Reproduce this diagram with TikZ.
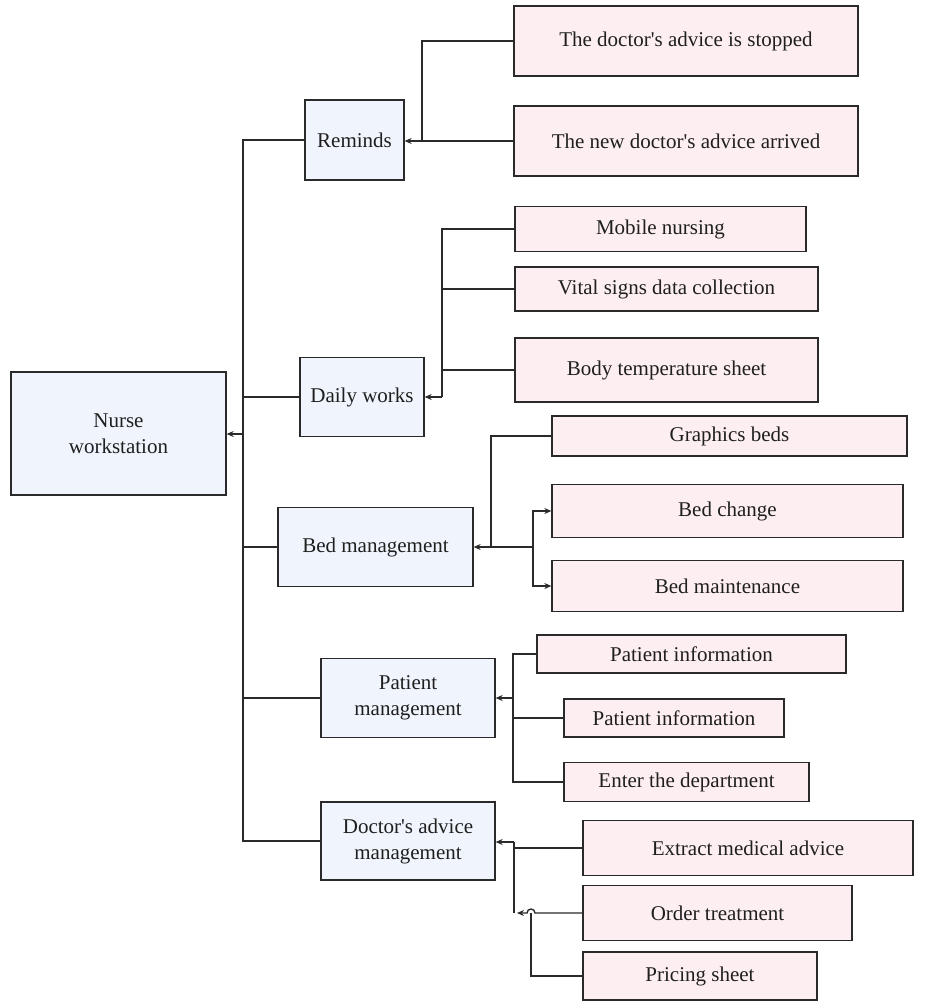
\documentclass[tikz,border=0pt]{standalone}
\usepackage{fontspec}
\setmainfont{Liberation Serif}[Ligatures=TeXOff]
\usetikzlibrary{arrows.meta}
\definecolor{bluefill}{HTML}{F0F5FD}
\definecolor{pinkfill}{HTML}{FDEEF1}
\definecolor{edge}{HTML}{2A2A2A}
\tikzset{
  boxbase/.style={draw=edge, line width=1.3pt, inner sep=2pt, align=center,
    font=\fontsize{21}{26}\selectfont, text=black!88},
  bluebox/.style={boxbase, fill=bluefill},
  pinkbox/.style={boxbase, fill=pinkfill},
  conn/.style={draw=edge, line width=1.4pt},
  arr/.style={conn, -{Stealth[length=7pt,width=6pt]}},
}
\begin{document}
\begin{tikzpicture}[x=1pt,y=-1pt]
\useasboundingbox (0,0) rectangle (925,1006);
% main boxes
\node[bluebox, minimum width=215, minimum height=123] (nurse) at (118.5,433.5) {Nurse\\workstation};
\node[bluebox, minimum width=99, minimum height=80] (reminds) at (354.5,140) {Reminds};
\node[bluebox, minimum width=124, minimum height=79] (daily) at (362,397) {Daily works};
\node[bluebox, minimum width=195, minimum height=79] (bed) at (375.5,547) {Bed management};
\node[bluebox, minimum width=174, minimum height=79] (patient) at (408,698) {Patient\\management};
\node[bluebox, minimum width=174, minimum height=78] (doctor) at (408,841) {Doctor's advice\\management};
% right boxes
\node[pinkbox, minimum width=344, minimum height=70] (stop) at (686,41) {The doctor's advice is stopped};
\node[pinkbox, minimum width=344, minimum height=70] (arrived) at (686,141) {The new doctor's advice arrived};
\node[pinkbox, minimum width=291, minimum height=45] (mobile) at (660.5,229) {Mobile nursing};
\node[pinkbox, minimum width=303, minimum height=44] (vital) at (666.5,289) {Vital signs data collection};
\node[pinkbox, minimum width=303, minimum height=64] (body) at (666.5,370) {Body temperature sheet};
\node[pinkbox, minimum width=355, minimum height=40] (graphics) at (729.5,436) {Graphics beds};
\node[pinkbox, minimum width=351, minimum height=53] (bedchange) at (727.5,511) {Bed change};
\node[pinkbox, minimum width=351, minimum height=51] (bedmaint) at (727.5,586) {Bed maintenance};
\node[pinkbox, minimum width=309, minimum height=38] (pinfoa) at (691.5,654) {Patient information};
\node[pinkbox, minimum width=220, minimum height=38] (pinfob) at (674,718) {Patient information};
\node[pinkbox, minimum width=245, minimum height=39] (enter) at (686.5,782) {Enter the department};
\node[pinkbox, minimum width=330, minimum height=55] (extract) at (748,848) {Extract medical advice};
\node[pinkbox, minimum width=269, minimum height=55] (order) at (717.5,913) {Order treatment};
\node[pinkbox, minimum width=234, minimum height=48] (pricing) at (700,976) {Pricing sheet};
% bus coordinates
\coordinate (tr) at (243,434);
\coordinate (rb) at (422,141);
\coordinate (db) at (442,397);
\coordinate (bb) at (491,547);
\coordinate (bc) at (533,547);
\coordinate (pb) at (513,698);
\coordinate (ob) at (514,842);
\coordinate (ot) at (514,913);
\coordinate (hp) at (531,913);
% trunk
\draw[conn] (reminds.west) -| (tr |- doctor.west) -- (doctor.west);
\draw[conn] (daily.west) -- (daily.west -| tr);
\draw[conn] (bed.west) -- (bed.west -| tr);
\draw[conn] (patient.west) -- (patient.west -| tr);
\draw[arr] (tr) -- (tr -| nurse.east);
% reminds
\draw[conn] (stop.west) -| (rb);
\draw[arr] (arrived.west) -- (arrived.west -| reminds.east);
% daily works
\draw[conn] (mobile.west) -| (db);
\draw[conn] (vital.west) -- (vital.west -| db);
\draw[conn] (body.west) -- (body.west -| db);
\draw[arr] (db) -- (db -| daily.east);
% bed management
\draw[conn] (graphics.west) -| (bb);
\draw[arr] (bc) -- (bc -| bed.east);
\draw[arr] (bc) |- (bedchange.west);
\draw[arr] (bc) |- (bedmaint.west);
% patient management
\draw[conn] (pinfoa.west) -| (enter.west -| pb) -- (enter.west);
\draw[conn] (pinfob.west) -- (pinfob.west -| pb);
\draw[arr] (pb) -- (pb -| patient.east);
% doctor's advice management
\draw[conn] (extract.west) -- (extract.west -| ob);
\draw[conn] (ob) -- (ot);
\draw[arr] (ob) -- (ob -| doctor.east);
\draw[conn] (pricing.west) -| (hp);
\draw[arr] (order.west) -- ([xshift=4]hp) arc[start angle=0, end angle=-180, radius=4] -- ([xshift=3]ot);
\end{tikzpicture}
\end{document}
